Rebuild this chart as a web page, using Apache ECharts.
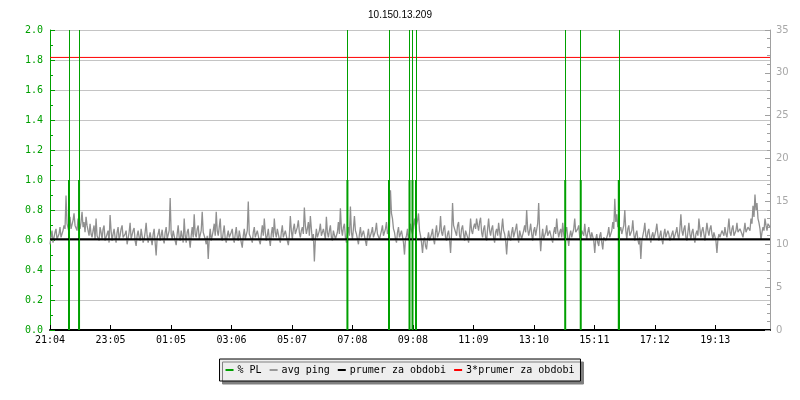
<!DOCTYPE html>
<html>
<head>
<meta charset="utf-8">
<script src="https://cdn.jsdelivr.net/npm/echarts@6/dist/echarts.min.js"></script>
<style>html,body{margin:0;padding:0;background:#fff}#c{width:800px;height:400px}</style>
</head>
<body>
<div id="c"></div>
<script>
// ---- data ----
const title = '10.150.13.209';
const timeLabels = ['21:04','23:05','01:05','03:06','05:07','07:08','09:08','11:09','13:10','15:11','17:12','19:13'];
const labelStepMin = 120.8;      // minutes between time labels
const spanMin = 1438;            // minutes shown on the x axis
const pingStepMin = 2;           // minutes between ping samples

// avg ping (ms, right axis), one sample per 2 minutes
const avgPing = [
 10.0,10.8,11.6,10.2,10.4,11.4,11.8,10.6,10.6,11.2,12.0,10.8,10.9,11.6,12.2,11.8,15.7,12.4,12.6,11.4,
 13.2,11.8,12.0,12.8,13.6,12.2,12.4,11.6,13.0,12.4,11.8,12.6,13.8,12.0,12.6,11.4,13.2,12.2,11.6,11.0,
 12.4,11.2,10.8,11.6,12.2,10.6,13.0,11.0,11.2,10.4,12.0,11.4,10.6,11.8,12.2,10.4,10.8,11.2,11.6,10.2,
 13.4,11.6,10.4,11.2,11.8,10.8,10.2,11.4,12.0,10.6,11.0,11.8,12.2,10.8,10.6,11.2,11.6,10.0,10.2,11.4,
 12.5,10.6,10.8,11.6,11.9,10.4,9.8,11.0,11.6,10.8,10.4,11.8,12.0,10.2,10.6,11.4,12.5,11.0,10.2,10.8,
 11.4,10.6,9.9,11.2,11.8,10.2,8.7,10.8,11.2,11.8,10.4,11.0,11.7,10.6,10.1,11.4,12.0,10.6,10.8,11.6,
 15.4,11.2,10.6,11.6,11.8,10.4,9.9,11.2,12.2,10.8,10.4,11.6,11.6,10.2,13.0,11.0,10.2,11.4,11.8,10.6,
 9.6,11.0,12.0,10.8,13.5,11.2,10.8,11.8,12.2,10.6,10.4,11.6,13.8,11.4,11.2,10.6,10.0,11.0,8.3,10.6,
 11.8,10.4,10.6,11.6,12.4,11.0,13.8,11.6,11.0,12.0,13.0,10.8,10.4,11.4,12.2,10.6,10.2,11.0,11.6,10.8,

 10.6,11.4,11.8,10.6,10.2,11.2,12.0,10.8,10.4,11.6,11.4,10.2,9.6,11.0,11.8,10.6,10.8,11.6,15.0,11.2,
 11.2,10.6,10.2,11.4,12.0,10.8,10.6,11.6,11.6,10.4,10.0,11.2,12.2,11.0,13.0,11.4,10.4,11.0,11.8,10.6,
 9.8,11.2,12.0,10.8,13.0,11.4,10.8,11.8,11.6,10.6,10.2,11.4,12.2,10.8,10.6,11.6,11.8,10.4,9.9,11.0,
 13.3,11.6,10.6,11.8,12.4,11.2,11.0,12.0,12.8,11.4,10.8,11.6,12.0,11.2,14.3,12.2,11.2,11.8,12.6,11.0,
 13.3,11.8,10.4,11.2,8.0,10.6,11.8,10.8,10.6,11.6,12.4,11.0,11.0,11.8,12.0,10.6,13.2,11.4,10.8,11.6,
 12.2,10.8,10.4,11.6,11.8,10.6,10.6,11.4,12.6,11.2,14.2,11.8,11.0,12.0,12.4,10.8,10.2,11.2,12.0,11.0,
 14.4,11.4,10.6,11.8,13.3,11.6,11.2,10.6,10.0,11.2,12.0,10.8,10.8,11.6,11.6,10.4,9.8,11.0,11.8,10.6,
 10.4,11.4,12.0,10.8,10.6,11.6,12.5,11.2,11.2,10.6,10.4,11.6,12.2,11.0,11.0,11.8,12.6,11.2,11.4,12.0,
 16.3,13.6,13.0,11.8,11.4,10.6,10.2,11.4,12.0,10.8,10.8,11.6,11.6,10.2,8.8,10.6,11.0,11.8,10.4,11.2,

 12.4,11.6,11.2,12.2,13.0,11.8,12.0,12.8,13.6,11.6,11.0,10.2,9.0,10.4,10.8,9.8,9.4,10.6,11.4,10.4,
 10.2,11.2,11.8,10.6,10.0,11.4,12.2,10.8,10.6,11.6,13.3,11.4,11.0,11.8,12.2,10.8,10.4,11.2,11.6,10.6,
 9.0,11.2,14.8,12.2,12.0,11.4,11.0,12.2,12.6,11.0,10.6,11.8,12.2,11.2,10.4,11.6,11.8,10.8,10.2,11.4,
 13.0,11.6,11.2,12.0,12.4,11.8,13.0,12.2,11.6,12.6,13.1,11.4,10.8,11.8,12.2,10.8,10.4,11.8,13.0,11.6,
 11.0,11.8,12.2,10.8,10.2,11.4,11.8,11.0,12.5,11.4,10.6,11.8,13.0,11.6,11.2,10.4,8.8,10.6,11.6,10.8,
 10.4,11.4,12.0,10.8,10.8,11.8,12.4,11.0,10.2,11.6,11.8,10.6,10.6,11.6,12.2,11.4,14.0,11.8,11.0,11.6,
 12.4,11.2,10.4,11.6,12.0,11.0,11.2,12.4,14.8,11.4,9.2,10.8,11.8,10.6,10.4,11.4,12.2,11.0,10.8,11.6,
 11.6,10.6,10.2,11.4,12.0,11.2,13.0,11.6,10.8,11.4,11.8,10.8,12.5,11.2,10.4,11.6,12.0,10.8,9.8,11.0,
 11.6,10.8,10.6,11.8,13.0,11.4,11.2,11.8,12.2,10.8,10.4,11.6,11.8,11.0,12.4,11.2,10.6,11.4,12.0,11.2,

 10.6,11.4,11.6,10.4,9.0,10.6,11.2,10.2,9.8,11.0,11.4,10.2,9.4,10.8,11.0,10.4,10.2,11.2,12.0,10.8,
 10.8,11.6,12.6,11.8,15.3,12.6,13.5,12.0,12.4,11.6,12.0,11.2,11.0,12.2,14.0,11.6,10.6,11.8,12.2,11.0,
 10.8,11.6,12.8,11.2,10.4,11.2,11.6,10.6,10.0,10.8,8.3,10.4,11.0,11.6,12.5,11.0,10.6,11.4,11.8,10.8,
 10.2,11.0,11.4,10.6,10.8,11.6,12.4,11.2,10.4,11.0,11.6,10.6,10.0,11.2,11.8,10.8,10.6,11.6,11.2,10.4,
 10.2,11.2,11.6,10.6,10.8,11.4,12.0,11.0,10.6,11.8,13.5,11.6,11.0,11.8,12.2,10.8,10.4,11.4,12.5,11.2,
 10.6,11.4,11.8,10.8,10.2,11.2,11.6,11.0,13.0,11.8,10.8,11.6,12.0,11.2,10.4,11.4,12.5,11.6,11.0,11.8,
 12.2,11.2,10.6,11.4,11.4,10.4,9.0,10.6,11.2,10.8,10.6,11.6,11.8,11.0,12.0,11.2,10.8,11.8,13.0,11.4,
 11.0,11.8,12.2,11.0,10.8,11.6,12.5,11.4,11.2,11.8,12.0,11.2,10.8,11.6,12.5,11.4,11.4,12.0,12.2,11.6,
 13.0,12.4,14.5,13.2,15.8,14.0,14.8,13.0,12.5,11.8,10.5,11.4,12.0,11.6,13.0,12.2,11.6,12.4,12.5,12.0
];

// packet loss events (minutes from start, % PL on left axis)
const plTimes  = [38, 58, 594, 677, 718, 724, 731, 1029, 1060, 1136];
const plValues = [1.0, 1.0, 1.0, 1.0, 1.0, 1.0, 1.0, 1.0, 1.0, 1.0];

const meanPing = 10.6;   // prumer za obdobi (ms)
const meanFactor = 3;    // 3*prumer

// ---- chart ----
const GREEN = '#00a000';
const pingData = avgPing.map((v, i) => [i * pingStepMin, v]);
const plData = plTimes.map((t, i) => [t, plValues[i]]);
const mono = 'DejaVu Sans Mono';

const chart = echarts.init(document.getElementById('c'), null, {renderer: 'canvas'});
chart.setOption({
  animation: false,
  backgroundColor: '#ffffff',
  title: {
    text: title, left: 'center', top: 5,
    textStyle: {fontFamily: 'Liberation Sans', fontSize: 10, fontWeight: 'normal', color: '#000'}
  },
  grid: {left: 50, right: 30, top: 30, bottom: 70, containLabel: false},
  legend: {
    left: 'center', top: 359,
    padding: [6, 6, 6, 6],
    backgroundColor: '#eeeeee', borderColor: '#000', borderWidth: 1,
    shadowColor: '#808080', shadowBlur: 0, shadowOffsetX: 3, shadowOffsetY: 3,
    itemWidth: 8, itemHeight: 2, itemGap: 8, icon: 'rect',
    textStyle: {fontFamily: mono, fontSize: 10, color: '#000', padding: [0, 0, 0, -1]},
    data: ['% PL', 'avg ping', 'prumer za obdobi', '3*prumer za obdobi']
  },
  xAxis: {
    type: 'value', min: 0, max: spanMin, interval: labelStepMin,
    axisLine: {show: true, lineStyle: {color: '#000', width: 2}},
    axisTick: {show: true, inside: true, length: 5, lineStyle: {color: '#000', width: 1}},
    splitLine: {show: false},
    axisLabel: {
      showMaxLabel: false, margin: 5,
      fontFamily: mono, fontSize: 10, color: '#000',
      formatter: v => timeLabels[Math.round(v / labelStepMin)] || ''
    }
  },
  yAxis: [
    {
      type: 'value', min: 0, max: 2, interval: 0.2, position: 'left',
      axisLine: {show: true, lineStyle: {color: GREEN, width: 1}},
      axisTick: {show: true, inside: true, length: 5, lineStyle: {color: GREEN}},
      minorTick: {show: true, splitNumber: 2, length: 3, lineStyle: {color: GREEN}},
      splitLine: {show: true, lineStyle: {color: '#c4c4c4', width: 1}},
      axisLabel: {margin: 7, fontFamily: mono, fontSize: 10, color: GREEN, formatter: v => v.toFixed(1)}
    },
    {
      type: 'value', min: 0, max: 35, interval: 5, position: 'right',
      axisLine: {show: true, lineStyle: {color: '#a0a0a0', width: 1}},
      axisTick: {show: true, inside: true, length: 5, lineStyle: {color: '#a0a0a0'}},
      minorTick: {show: true, splitNumber: 5, length: 3, lineStyle: {color: '#a0a0a0'}},
      splitLine: {show: false},
      axisLabel: {margin: 6, fontFamily: 'DejaVu Sans', fontSize: 10, color: '#a8a8a8'}
    }
  ],
  series: [
    {
      name: 'avg ping', type: 'line', yAxisIndex: 1, data: pingData,
      showSymbol: false, symbol: 'none', z: 2,
      lineStyle: {color: '#909090', width: 1.3}, itemStyle: {color: '#999999'}
    },
    {
      name: '% PL', type: 'bar', yAxisIndex: 0, data: plData, barWidth: 2, z: 3,
      itemStyle: {color: GREEN},
      markLine: {
        silent: true, symbol: 'none', label: {show: false},
        lineStyle: {color: GREEN, width: 1, type: 'solid', opacity: 1},
        data: plTimes.map(t => ({xAxis: t}))
      }
    },
    {
      name: 'prumer za obdobi', type: 'line', yAxisIndex: 1,
      data: [[0, meanPing], [spanMin, meanPing]],
      showSymbol: false, symbol: 'none', z: 4,
      lineStyle: {color: '#000', width: 2}, itemStyle: {color: '#000'}
    },
    {
      name: '3*prumer za obdobi', type: 'line', yAxisIndex: 1,
      data: [[0, meanPing * meanFactor], [spanMin, meanPing * meanFactor]],
      showSymbol: false, symbol: 'none', z: 4,
      lineStyle: {color: '#ff0000', width: 1}, itemStyle: {color: '#ff0000'}
    }
  ]
});
</script>
</body>
</html>
